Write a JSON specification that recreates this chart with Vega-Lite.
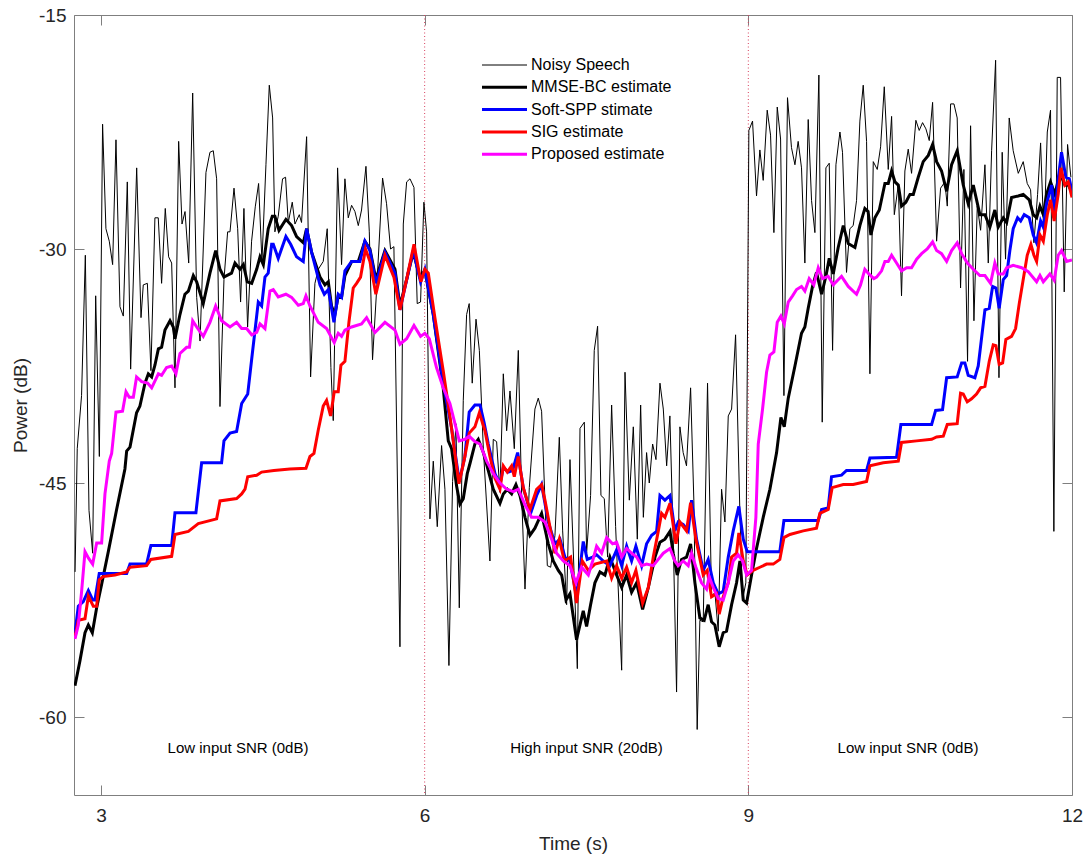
{
  "$schema": "https://vega.github.io/schema/vega-lite/v6.json",
  "width": 998,
  "height": 780,
  "autosize": {"type": "none"},
  "padding": {"left": 74, "top": 15, "right": 19, "bottom": 61},
  "background": "white",
  "config": {
    "font": "Liberation Sans",
    "view": {"stroke": null},
    "axis": {
      "grid": false,
      "domainColor": "#7f7f7f",
      "domainWidth": 1,
      "tickColor": "#7f7f7f",
      "tickWidth": 1,
      "tickSize": -10,
      "labelColor": "#262626",
      "titleColor": "#262626",
      "labelFontSize": 19,
      "titleFontSize": 19,
      "titleFontWeight": "normal",
      "labelFlush": false
    }
  },
  "datasets": {
    "bounds": [{"t": 6}, {"t": 9}],
    "notes": [
      {"t": 4.27, "p": -62, "label": "Low input SNR (0dB)"},
      {"t": 7.5, "p": -62, "label": "High input SNR (20dB)"},
      {"t": 10.48, "p": -62, "label": "Low input SNR (0dB)"}
    ],
    "noisy": [
      {"t":2.76,"p":-50.7},{"t":2.78,"p":-42.8},{"t":2.82,"p":-39.4},{"t":2.855,"p":-30.4},{"t":2.889,"p":-46.75},{"t":2.923,"p":-49.5},{"t":2.951,"p":-33.0},{"t":2.985,"p":-43.3},{"t":3.015,"p":-22.0},{"t":3.046,"p":-28.7},{"t":3.077,"p":-29.5},{"t":3.108,"p":-31.0},{"t":3.139,"p":-23.0},{"t":3.176,"p":-33.7},{"t":3.207,"p":-34.3},{"t":3.244,"p":-25.7},{"t":3.275,"p":-37.7},{"t":3.331,"p":-24.8},{"t":3.371,"p":-34.4},{"t":3.392,"p":-32.3},{"t":3.43,"p":-32.2},{"t":3.463,"p":-37.8},{"t":3.5,"p":-28.0},{"t":3.531,"p":-28.0},{"t":3.562,"p":-32.2},{"t":3.596,"p":-27.4},{"t":3.627,"p":-30.5},{"t":3.655,"p":-30.9},{"t":3.686,"p":-38.9},{"t":3.72,"p":-23.1},{"t":3.751,"p":-28.4},{"t":3.779,"p":-27.6},{"t":3.813,"p":-30.9},{"t":3.85,"p":-20.0},{"t":3.887,"p":-33.1},{"t":3.918,"p":-35.9},{"t":3.973,"p":-25.1},{"t":4.01,"p":-23.8},{"t":4.041,"p":-23.7},{"t":4.072,"p":-25.5},{"t":4.103,"p":-40.1},{"t":4.14,"p":-31.95},{"t":4.174,"p":-28.9},{"t":4.196,"p":-28.9},{"t":4.233,"p":-26.1},{"t":4.267,"p":-28.7},{"t":4.294,"p":-33.4},{"t":4.325,"p":-27.4},{"t":4.359,"p":-35.0},{"t":4.396,"p":-29.5},{"t":4.43,"p":-27.3},{"t":4.461,"p":-25.8},{"t":4.492,"p":-30.8},{"t":4.529,"p":-24.6},{"t":4.56,"p":-19.5},{"t":4.591,"p":-21.6},
      {"t":4.612,"p":-28.9},{"t":4.643,"p":-27.9},{"t":4.683,"p":-25.5},{"t":4.711,"p":-25.4},{"t":4.736,"p":-28.3},{"t":4.773,"p":-27.0},{"t":4.798,"p":-28.4},{"t":4.838,"p":-27.8},{"t":4.859,"p":-28.3},{"t":4.906,"p":-22.8},{"t":4.943,"p":-38.2},{"t":4.983,"p":-32.2},{"t":5.014,"p":-31.3},{"t":5.06,"p":-30.8},{"t":5.097,"p":-28.7},{"t":5.131,"p":-37.6},{"t":5.153,"p":-41.0},{"t":5.193,"p":-24.8},{"t":5.23,"p":-31.0},{"t":5.261,"p":-25.5},{"t":5.292,"p":-28.0},{"t":5.323,"p":-27.2},{"t":5.354,"p":-27.6},{"t":5.385,"p":-28.5},{"t":5.415,"p":-27.5},{"t":5.456,"p":-24.7},{"t":5.487,"p":-28.9},{"t":5.517,"p":-37.1},{"t":5.555,"p":-32.6},{"t":5.61,"p":-25.45},{"t":5.647,"p":-27.1},{"t":5.684,"p":-30.0},{"t":5.715,"p":-29.85},{"t":5.771,"p":-55.5},{"t":5.802,"p":-28.4},{"t":5.833,"p":-25.7},{"t":5.864,"p":-25.5},{"t":5.901,"p":-26.05},{"t":5.931,"p":-33.5},{"t":5.962,"p":-33.4},{"t":5.993,"p":-27.0},{"t":6.018,"p":-28.9},{"t":6.049,"p":-47.3},{"t":6.08,"p":-43.6},{"t":6.117,"p":-47.8},{"t":6.157,"p":-42.6},{"t":6.188,"p":-45.4},{"t":6.225,"p":-56.7},{"t":6.259,"p":-44.9},{"t":6.29,"p":-41.2},{"t":6.321,"p":-53.0},{"t":6.358,"p":-39.7},{"t":6.389,"p":-34.2},{"t":6.413,"p":-33.5},{"t":6.441,"p":-38.6},
      {"t":6.476,"p":-34.5},{"t":6.507,"p":-36.5},{"t":6.544,"p":-42.8},{"t":6.605,"p":-50.0},{"t":6.636,"p":-42.2},{"t":6.667,"p":-42.35},{"t":6.698,"p":-45.6},{"t":6.729,"p":-38.0},{"t":6.76,"p":-41.65},{"t":6.791,"p":-39.1},{"t":6.831,"p":-42.8},{"t":6.868,"p":-36.5},{"t":6.899,"p":-45.8},{"t":6.93,"p":-51.8},{"t":6.97,"p":-45.3},{"t":7.022,"p":-40.26},{"t":7.053,"p":-39.56},{"t":7.084,"p":-40.4},{"t":7.115,"p":-46.1},{"t":7.137,"p":-50.3},{"t":7.168,"p":-50.4},{"t":7.208,"p":-48.35},{"t":7.248,"p":-42.07},{"t":7.279,"p":-48.07},{"t":7.316,"p":-52.8},{"t":7.347,"p":-43.5},{"t":7.384,"p":-50.6},{"t":7.415,"p":-56.9},{"t":7.44,"p":-41.5},{"t":7.48,"p":-41.1},{"t":7.501,"p":-49.5},{"t":7.538,"p":-45.8},{"t":7.572,"p":-36.5},{"t":7.603,"p":-34.95},{"t":7.634,"p":-45.8},{"t":7.665,"p":-46.0},{"t":7.696,"p":-49.75},{"t":7.733,"p":-40.0},{"t":7.77,"p":-47.8},{"t":7.826,"p":-57.0},{"t":7.857,"p":-37.9},{"t":7.897,"p":-46.1},{"t":7.934,"p":-41.4},{"t":7.971,"p":-48.6},{"t":8.002,"p":-40.0},{"t":8.027,"p":-47.2},{"t":8.057,"p":-43.05},{"t":8.082,"p":-45.0},{"t":8.113,"p":-42.5},{"t":8.144,"p":-43.5},{"t":8.181,"p":-38.6},{"t":8.212,"p":-40.26},{"t":8.243,"p":-43.9},
      {"t":8.273,"p":-40.7},{"t":8.304,"p":-48.6},{"t":8.335,"p":-58.4},{"t":8.366,"p":-41.4},{"t":8.396,"p":-43.05},{"t":8.427,"p":-43.9},{"t":8.465,"p":-38.9},{"t":8.495,"p":-46.1},{"t":8.526,"p":-60.8},{"t":8.551,"p":-53.8},{"t":8.582,"p":-53.9},{"t":8.622,"p":-38.6},{"t":8.659,"p":-52.3},{"t":8.69,"p":-52.0},{"t":8.721,"p":-54.5},{"t":8.752,"p":-45.4},{"t":8.783,"p":-47.5},{"t":8.814,"p":-40.7},{"t":8.845,"p":-40.26},{"t":8.882,"p":-35.5},{"t":8.922,"p":-46.95},{"t":8.946,"p":-52.5},{"t":8.977,"p":-51.4},{"t":9.005,"p":-22.4},{"t":9.039,"p":-21.8},{"t":9.076,"p":-26.6},{"t":9.107,"p":-23.65},{"t":9.138,"p":-25.6},{"t":9.175,"p":-21.1},{"t":9.206,"p":-22.7},{"t":9.237,"p":-28.95},{"t":9.268,"p":-20.9},{"t":9.299,"p":-22.95},{"t":9.33,"p":-39.4},{"t":9.363,"p":-20.3},{"t":9.4,"p":-23.5},{"t":9.432,"p":-24.6},{"t":9.462,"p":-23.1},{"t":9.493,"p":-24.8},{"t":9.524,"p":-30.9},{"t":9.555,"p":-21.7},{"t":9.586,"p":-26.9},{"t":9.617,"p":-28.95},{"t":9.654,"p":-18.85},{"t":9.685,"p":-41.1},{"t":9.719,"p":-24.8},{"t":9.75,"p":-24.5},{"t":9.781,"p":-36.5},{"t":9.812,"p":-24.6},{"t":9.849,"p":-22.5},{"t":9.873,"p":-23.8},{"t":9.91,"p":-31.5},{"t":9.941,"p":-28.7},{"t":9.972,"p":-28.5},{"t":10.003,"p":-26.9},{"t":10.034,"p":-21.8},{"t":10.065,"p":-19.5},{"t":10.096,"p":-23.1},{"t":10.127,"p":-38.0},
      {"t":10.158,"p":-24.4},{"t":10.195,"p":-24.9},{"t":10.226,"p":-23.45},{"t":10.26,"p":-19.6},{"t":10.297,"p":-24.9},{"t":10.328,"p":-21.5},{"t":10.353,"p":-27.8},{"t":10.39,"p":-25.9},{"t":10.42,"p":-33.0},{"t":10.451,"p":-25.0},{"t":10.482,"p":-23.6},{"t":10.513,"p":-25.15},{"t":10.553,"p":-21.75},{"t":10.584,"p":-22.4},{"t":10.615,"p":-21.9},{"t":10.646,"p":-22.3},{"t":10.677,"p":-23.05},{"t":10.708,"p":-20.6},{"t":10.745,"p":-29.5},{"t":10.782,"p":-26.1},{"t":10.822,"p":-25.7},{"t":10.844,"p":-27.25},{"t":10.875,"p":-20.7},{"t":10.906,"p":-20.7},{"t":10.936,"p":-21.6},{"t":10.967,"p":-32.5},{"t":10.998,"p":-24.9},{"t":11.032,"p":-37.2},{"t":11.06,"p":-22.1},{"t":11.091,"p":-34.6},{"t":11.122,"p":-27.25},{"t":11.153,"p":-28.8},{"t":11.193,"p":-24.6},{"t":11.224,"p":-30.9},{"t":11.255,"p":-23.7},{"t":11.292,"p":-17.9},{"t":11.323,"p":-38.25},{"t":11.353,"p":-23.8},{"t":11.384,"p":-30.65},{"t":11.418,"p":-21.6},{"t":11.455,"p":-23.7},{"t":11.502,"p":-25.15},{"t":11.548,"p":-24.4},{"t":11.585,"p":-25.8},{"t":11.616,"p":-26.2},{"t":11.647,"p":-29.6},{"t":11.681,"p":-26.5},{"t":11.709,"p":-23.2},{"t":11.74,"p":-29.35},{"t":11.771,"p":-22.5},{"t":11.801,"p":-21.1},{"t":11.832,"p":-48.1},{"t":11.863,"p":-19.0},{"t":11.894,"p":-19.0},{"t":11.928,"p":-32.75},{"t":11.959,"p":-23.3},{"t":11.99,"p":-25.4}
    ],
    "mmse": [
      {"t":2.759,"p":-58.0},{"t":2.805,"p":-56.4},{"t":2.852,"p":-54.6},{"t":2.883,"p":-54.1},{"t":2.92,"p":-54.6},{"t":2.96,"p":-53.0},{"t":3.006,"p":-51.5},{"t":3.068,"p":-49.4},{"t":3.145,"p":-46.7},{"t":3.222,"p":-44.1},{"t":3.238,"p":-42.95},{"t":3.269,"p":-42.7},{"t":3.33,"p":-40.5},{"t":3.361,"p":-40.07},{"t":3.408,"p":-38.6},{"t":3.439,"p":-38.0},{"t":3.47,"p":-38.2},{"t":3.5,"p":-37.45},{"t":3.532,"p":-36.4},{"t":3.562,"p":-36.3},{"t":3.593,"p":-35.2},{"t":3.64,"p":-34.6},{"t":3.67,"p":-35.0},{"t":3.686,"p":-35.75},{"t":3.732,"p":-34.2},{"t":3.778,"p":-32.9},{"t":3.81,"p":-32.7},{"t":3.856,"p":-31.7},{"t":3.887,"p":-32.1},{"t":3.948,"p":-33.5},{"t":4.01,"p":-31.55},{"t":4.063,"p":-30.1},{"t":4.103,"p":-31.3},{"t":4.14,"p":-31.8},{"t":4.21,"p":-31.55},{"t":4.242,"p":-30.9},{"t":4.288,"p":-31.3},{"t":4.32,"p":-31.0},{"t":4.356,"p":-32.1},{"t":4.397,"p":-32.2},{"t":4.443,"p":-31.3},{"t":4.474,"p":-30.5},{"t":4.505,"p":-31.0},{"t":4.55,"p":-28.7},{"t":4.588,"p":-27.9},
      {"t":4.612,"p":-27.9},{"t":4.65,"p":-28.8},{"t":4.714,"p":-28.1},{"t":4.767,"p":-28.5},{"t":4.813,"p":-29.2},{"t":4.875,"p":-29.6},{"t":4.906,"p":-28.7},{"t":4.952,"p":-30.2},{"t":5.03,"p":-31.8},{"t":5.076,"p":-32.3},{"t":5.107,"p":-32.1},{"t":5.137,"p":-33.65},{"t":5.168,"p":-34.2},{"t":5.199,"p":-33.0},{"t":5.23,"p":-33.1},{"t":5.261,"p":-31.7},{"t":5.323,"p":-30.8},{"t":5.385,"p":-30.8},{"t":5.446,"p":-29.5},{"t":5.493,"p":-30.0},{"t":5.548,"p":-31.95},{"t":5.632,"p":-30.1},{"t":5.725,"p":-31.3},{"t":5.771,"p":-33.65},{"t":5.833,"p":-31.95},{"t":5.894,"p":-30.2},{"t":5.956,"p":-31.8},{"t":6.002,"p":-31.4},{"t":6.08,"p":-34.2},{"t":6.172,"p":-38.9},{"t":6.219,"p":-42.3},{"t":6.25,"p":-42.8},{"t":6.296,"p":-45.2},{"t":6.327,"p":-46.35},{"t":6.358,"p":-46.0},{"t":6.395,"p":-44.4},{"t":6.42,"p":-43.75},
      {"t":6.466,"p":-42.5},{"t":6.497,"p":-42.2},{"t":6.544,"p":-43.05},{"t":6.59,"p":-44.2},{"t":6.636,"p":-45.4},{"t":6.698,"p":-46.3},{"t":6.729,"p":-45.7},{"t":6.766,"p":-45.4},{"t":6.806,"p":-45.7},{"t":6.846,"p":-45.1},{"t":6.883,"p":-45.8},{"t":6.93,"p":-47.2},{"t":6.976,"p":-48.35},{"t":7.022,"p":-47.9},{"t":7.084,"p":-46.95},{"t":7.146,"p":-48.9},{"t":7.192,"p":-50.0},{"t":7.239,"p":-50.6},{"t":7.27,"p":-50.9},{"t":7.31,"p":-52.5},{"t":7.347,"p":-52.1},{"t":7.408,"p":-55.05},{"t":7.47,"p":-53.2},{"t":7.501,"p":-54.2},{"t":7.538,"p":-52.8},{"t":7.578,"p":-51.4},{"t":7.625,"p":-50.7},{"t":7.671,"p":-50.9},{"t":7.717,"p":-49.75},{"t":7.779,"p":-50.9},{"t":7.826,"p":-51.7},{"t":7.872,"p":-50.9},{"t":7.918,"p":-52.0},{"t":7.965,"p":-51.4},{"t":8.02,"p":-53.1},{"t":8.073,"p":-51.7},{"t":8.135,"p":-49.75},{"t":8.181,"p":-48.8},{"t":8.227,"p":-48.6},{"t":8.274,"p":-48.1},
      {"t":8.304,"p":-49.5},{"t":8.341,"p":-50.9},{"t":8.381,"p":-49.9},{"t":8.427,"p":-49.75},{"t":8.465,"p":-48.9},{"t":8.505,"p":-51.4},{"t":8.551,"p":-53.65},{"t":8.591,"p":-53.8},{"t":8.628,"p":-52.8},{"t":8.659,"p":-53.9},{"t":8.69,"p":-54.1},{"t":8.73,"p":-55.5},{"t":8.767,"p":-54.6},{"t":8.798,"p":-54.5},{"t":8.845,"p":-52.8},{"t":8.891,"p":-51.4},{"t":8.922,"p":-50.0},{"t":8.953,"p":-52.5},{"t":8.984,"p":-52.7},{"t":9.03,"p":-50.9},{"t":9.076,"p":-49.2},{"t":9.138,"p":-47.2},{"t":9.2,"p":-45.4},{"t":9.262,"p":-43.05},{"t":9.302,"p":-40.8},{"t":9.333,"p":-41.4},{"t":9.37,"p":-39.56},{"t":9.432,"p":-37.5},{"t":9.493,"p":-35.4},{"t":9.524,"p":-35.0},{"t":9.555,"p":-33.8},{"t":9.595,"p":-32.4},{"t":9.632,"p":-31.5},{"t":9.679,"p":-32.9},{"t":9.719,"p":-31.75},{"t":9.75,"p":-30.6},{"t":9.787,"p":-31.6},{"t":9.833,"p":-29.9},{"t":9.88,"p":-28.5},{"t":9.926,"p":-29.65},{"t":9.988,"p":-29.9},{"t":10.034,"p":-28.5},{"t":10.08,"p":-27.4},{"t":10.11,"p":-27.6},{"t":10.136,"p":-29.1},
      {"t":10.173,"p":-28.0},{"t":10.214,"p":-27.5},{"t":10.266,"p":-25.8},{"t":10.297,"p":-25.8},{"t":10.328,"p":-25.0},{"t":10.359,"p":-25.7},{"t":10.39,"p":-25.9},{"t":10.42,"p":-27.25},{"t":10.46,"p":-27.0},{"t":10.498,"p":-26.5},{"t":10.529,"p":-26.5},{"t":10.575,"p":-25.4},{"t":10.621,"p":-24.4},{"t":10.668,"p":-24.0},{"t":10.708,"p":-23.3},{"t":10.745,"p":-24.4},{"t":10.791,"p":-25.0},{"t":10.838,"p":-26.3},{"t":10.884,"p":-24.6},{"t":10.936,"p":-23.7},{"t":10.992,"p":-25.9},{"t":11.038,"p":-27.1},{"t":11.085,"p":-25.9},{"t":11.146,"p":-27.8},{"t":11.193,"p":-27.8},{"t":11.239,"p":-28.6},{"t":11.285,"p":-27.5},{"t":11.316,"p":-28.6},{"t":11.363,"p":-28.0},{"t":11.394,"p":-28.3},{"t":11.44,"p":-26.7},{"t":11.502,"p":-26.6},{"t":11.548,"p":-26.5},{"t":11.604,"p":-26.85},{"t":11.641,"p":-27.8},{"t":11.672,"p":-28.0},{"t":11.703,"p":-27.25},{"t":11.734,"p":-27.8},{"t":11.764,"p":-26.5},{"t":11.801,"p":-25.7},{"t":11.842,"p":-26.5},{"t":11.888,"p":-25.1},{"t":11.934,"p":-25.9},{"t":11.965,"p":-25.9},{"t":11.996,"p":-26.3}
    ],
    "softspp": [
      {"t":2.759,"p":-54.6},{"t":2.79,"p":-52.9},{"t":2.836,"p":-52.6},{"t":2.883,"p":-51.9},{"t":2.923,"p":-52.5},{"t":2.944,"p":-52.5},{"t":2.984,"p":-50.8},{"t":3.238,"p":-50.8},{"t":3.269,"p":-50.2},{"t":3.423,"p":-50.2},{"t":3.463,"p":-49.0},{"t":3.655,"p":-49.0},{"t":3.686,"p":-46.9},{"t":3.88,"p":-46.9},{"t":3.933,"p":-43.7},{"t":4.118,"p":-43.7},{"t":4.14,"p":-42.3},{"t":4.196,"p":-41.8},{"t":4.257,"p":-41.7},{"t":4.304,"p":-39.9},{"t":4.36,"p":-39.3},{"t":4.397,"p":-37.05},{"t":4.458,"p":-33.4},{"t":4.489,"p":-33.65},{"t":4.52,"p":-31.8},{"t":4.55,"p":-31.55},{"t":4.582,"p":-29.7},
      {"t":4.597,"p":-29.7},{"t":4.643,"p":-30.6},{"t":4.714,"p":-29.2},{"t":4.758,"p":-29.7},{"t":4.813,"p":-30.5},{"t":4.875,"p":-30.8},{"t":4.906,"p":-28.7},{"t":4.952,"p":-30.2},{"t":5.03,"p":-32.3},{"t":5.07,"p":-32.9},{"t":5.107,"p":-32.6},{"t":5.159,"p":-34.7},{"t":5.199,"p":-32.9},{"t":5.23,"p":-33.1},{"t":5.261,"p":-31.4},{"t":5.323,"p":-30.8},{"t":5.4,"p":-30.8},{"t":5.446,"p":-29.5},{"t":5.493,"p":-30.1},{"t":5.548,"p":-32.2},{"t":5.632,"p":-30.2},{"t":5.725,"p":-31.55},{"t":5.771,"p":-33.9},{"t":5.894,"p":-30.1},{"t":5.962,"p":-32.1},{"t":6.002,"p":-31.3},{"t":6.08,"p":-34.2},{"t":6.172,"p":-38.6},{"t":6.25,"p":-41.5},{"t":6.321,"p":-44.9},{"t":6.373,"p":-43.3},{"t":6.413,"p":-40.46},
      {"t":6.466,"p":-40.0},{"t":6.513,"p":-40.0},{"t":6.55,"p":-41.1},{"t":6.59,"p":-42.5},{"t":6.652,"p":-44.4},{"t":6.698,"p":-45.1},{"t":6.729,"p":-44.0},{"t":6.775,"p":-44.3},{"t":6.815,"p":-44.2},{"t":6.862,"p":-43.05},{"t":6.914,"p":-45.3},{"t":6.982,"p":-46.95},{"t":7.038,"p":-45.8},{"t":7.084,"p":-45.1},{"t":7.146,"p":-47.5},{"t":7.208,"p":-48.9},{"t":7.254,"p":-48.6},{"t":7.3,"p":-49.75},{"t":7.347,"p":-50.0},{"t":7.408,"p":-52.3},{"t":7.47,"p":-48.75},{"t":7.507,"p":-49.9},{"t":7.557,"p":-49.75},{"t":7.594,"p":-49.6},{"t":7.656,"p":-50.0},{"t":7.717,"p":-50.3},{"t":7.779,"p":-49.3},{"t":7.826,"p":-50.3},{"t":7.872,"p":-49.05},{"t":7.918,"p":-50.0},{"t":7.958,"p":-49.05},{"t":8.011,"p":-50.3},{"t":8.057,"p":-48.9},{"t":8.104,"p":-48.35},{"t":8.15,"p":-48.1},{"t":8.181,"p":-45.8},{"t":8.227,"p":-46.1},{"t":8.274,"p":-45.8},
      {"t":8.319,"p":-48.07},{"t":8.35,"p":-47.5},{"t":8.396,"p":-47.65},{"t":8.443,"p":-48.07},{"t":8.474,"p":-46.1},{"t":8.52,"p":-48.6},{"t":8.582,"p":-50.6},{"t":8.628,"p":-49.9},{"t":8.675,"p":-51.4},{"t":8.721,"p":-52.1},{"t":8.767,"p":-51.95},{"t":8.814,"p":-49.75},{"t":8.86,"p":-48.07},{"t":8.912,"p":-46.5},{"t":8.953,"p":-48.6},{"t":8.99,"p":-49.4},{"t":9.292,"p":-49.4},{"t":9.33,"p":-47.4},{"t":9.648,"p":-47.4},{"t":9.679,"p":-46.7},{"t":9.74,"p":-46.6},{"t":9.771,"p":-44.6},{"t":9.864,"p":-44.5},{"t":9.91,"p":-44.2},{"t":10.096,"p":-44.2},{"t":10.127,"p":-43.4},
      {"t":10.374,"p":-43.35},{"t":10.414,"p":-41.25},{"t":10.699,"p":-41.25},{"t":10.736,"p":-40.35},{"t":10.8,"p":-40.3},{"t":10.838,"p":-38.25},{"t":10.936,"p":-38.2},{"t":10.977,"p":-37.3},{"t":11.007,"p":-37.3},{"t":11.038,"p":-38.1},{"t":11.1,"p":-38.25},{"t":11.131,"p":-37.5},{"t":11.193,"p":-33.9},{"t":11.233,"p":-33.8},{"t":11.264,"p":-32.4},{"t":11.295,"p":-32.5},{"t":11.325,"p":-33.8},{"t":11.363,"p":-31.96},{"t":11.394,"p":-31.7},{"t":11.424,"p":-30.1},{"t":11.455,"p":-28.7},{"t":11.496,"p":-28.0},{"t":11.524,"p":-28.2},{"t":11.557,"p":-27.8},{"t":11.604,"p":-28.0},{"t":11.641,"p":-29.1},{"t":11.672,"p":-29.6},{"t":11.709,"p":-28.2},{"t":11.734,"p":-28.6},{"t":11.764,"p":-27.1},{"t":11.811,"p":-25.9},{"t":11.842,"p":-27.8},{"t":11.872,"p":-25.5},{"t":11.903,"p":-23.8},{"t":11.943,"p":-25.4},{"t":11.975,"p":-25.5},{"t":12.0,"p":-26.3}
    ],
    "sig": [
      {"t":2.759,"p":-54.9},{"t":2.79,"p":-53.8},{"t":2.852,"p":-53.7},{"t":2.883,"p":-52.25},{"t":2.929,"p":-52.9},{"t":2.96,"p":-52.9},{"t":2.984,"p":-51.2},{"t":3.02,"p":-51.0},{"t":3.13,"p":-50.9},{"t":3.238,"p":-50.7},{"t":3.269,"p":-50.4},{"t":3.423,"p":-50.3},{"t":3.463,"p":-49.9},{"t":3.655,"p":-49.7},{"t":3.686,"p":-48.3},{"t":3.81,"p":-48.1},{"t":3.902,"p":-47.6},{"t":4.072,"p":-47.3},{"t":4.103,"p":-46.15},{"t":4.257,"p":-46.0},{"t":4.304,"p":-45.7},{"t":4.335,"p":-45.4},{"t":4.36,"p":-44.6},{"t":4.443,"p":-44.5},{"t":4.489,"p":-44.3},{"t":4.603,"p":-44.2},
      {"t":4.751,"p":-44.1},{"t":4.9,"p":-44.05},{"t":4.937,"p":-43.3},{"t":4.974,"p":-43.1},{"t":5.014,"p":-41.6},{"t":5.06,"p":-40.07},{"t":5.091,"p":-39.7},{"t":5.128,"p":-40.7},{"t":5.162,"p":-39.15},{"t":5.199,"p":-39.15},{"t":5.224,"p":-37.45},{"t":5.261,"p":-37.2},{"t":5.298,"p":-34.7},{"t":5.338,"p":-32.5},{"t":5.369,"p":-32.2},{"t":5.406,"p":-31.8},{"t":5.452,"p":-30.0},{"t":5.493,"p":-30.8},{"t":5.548,"p":-32.9},{"t":5.632,"p":-30.4},{"t":5.715,"p":-31.8},{"t":5.771,"p":-33.9},{"t":5.833,"p":-31.95},{"t":5.901,"p":-29.7},{"t":5.965,"p":-32.1},{"t":6.002,"p":-31.3},{"t":6.034,"p":-31.55},{"t":6.095,"p":-34.4},{"t":6.172,"p":-37.8},{"t":6.234,"p":-40.7},{"t":6.318,"p":-45.05},{"t":6.367,"p":-43.5},{"t":6.413,"p":-41.8},
      {"t":6.466,"p":-41.4},{"t":6.507,"p":-40.5},{"t":6.559,"p":-41.65},{"t":6.605,"p":-43.3},{"t":6.652,"p":-44.7},{"t":6.698,"p":-45.4},{"t":6.729,"p":-43.9},{"t":6.766,"p":-44.3},{"t":6.806,"p":-43.9},{"t":6.831,"p":-44.6},{"t":6.868,"p":-43.3},{"t":6.914,"p":-45.3},{"t":6.976,"p":-46.7},{"t":7.038,"p":-45.4},{"t":7.084,"p":-45.1},{"t":7.115,"p":-46.1},{"t":7.161,"p":-47.8},{"t":7.208,"p":-49.5},{"t":7.248,"p":-48.6},{"t":7.294,"p":-50.0},{"t":7.353,"p":-49.75},{"t":7.408,"p":-52.7},{"t":7.461,"p":-50.0},{"t":7.517,"p":-50.6},{"t":7.578,"p":-50.2},{"t":7.687,"p":-50.0},{"t":7.733,"p":-51.1},{"t":7.779,"p":-50.3},{"t":7.826,"p":-51.1},{"t":7.872,"p":-50.4},{"t":7.918,"p":-51.4},{"t":7.958,"p":-50.6},{"t":8.02,"p":-52.7},{"t":8.073,"p":-51.7},{"t":8.119,"p":-49.75},{"t":8.165,"p":-48.1},{"t":8.196,"p":-46.95},{"t":8.227,"p":-47.2},{"t":8.274,"p":-46.3},
      {"t":8.329,"p":-48.9},{"t":8.366,"p":-47.5},{"t":8.427,"p":-48.07},{"t":8.465,"p":-46.26},{"t":8.514,"p":-48.6},{"t":8.582,"p":-50.9},{"t":8.619,"p":-50.6},{"t":8.659,"p":-52.3},{"t":8.706,"p":-52.1},{"t":8.73,"p":-53.4},{"t":8.767,"p":-52.3},{"t":8.814,"p":-51.4},{"t":8.845,"p":-49.75},{"t":8.891,"p":-49.5},{"t":8.912,"p":-48.2},{"t":8.953,"p":-50.0},{"t":8.99,"p":-50.9},{"t":9.045,"p":-50.6},{"t":9.107,"p":-50.4},{"t":9.169,"p":-50.2},{"t":9.231,"p":-50.2},{"t":9.292,"p":-49.9},{"t":9.33,"p":-48.5},{"t":9.385,"p":-48.3},{"t":9.509,"p":-48.07},{"t":9.632,"p":-47.9},{"t":9.663,"p":-46.95},{"t":9.74,"p":-46.7},{"t":9.777,"p":-45.3},{"t":9.88,"p":-45.1},{"t":9.972,"p":-45.1},{"t":10.096,"p":-44.9},{"t":10.127,"p":-43.9},
      {"t":10.251,"p":-43.7},{"t":10.39,"p":-43.6},{"t":10.42,"p":-42.4},{"t":10.56,"p":-42.3},{"t":10.699,"p":-42.2},{"t":10.745,"p":-42.05},{"t":10.807,"p":-42.0},{"t":10.844,"p":-41.25},{"t":10.936,"p":-41.2},{"t":10.967,"p":-39.25},{"t":10.992,"p":-39.3},{"t":11.029,"p":-39.8},{"t":11.069,"p":-39.6},{"t":11.115,"p":-39.3},{"t":11.153,"p":-38.9},{"t":11.193,"p":-38.8},{"t":11.233,"p":-37.2},{"t":11.27,"p":-36.15},{"t":11.295,"p":-36.2},{"t":11.325,"p":-37.4},{"t":11.357,"p":-37.3},{"t":11.387,"p":-35.8},{"t":11.44,"p":-35.6},{"t":11.477,"p":-35.1},{"t":11.511,"p":-33.5},{"t":11.554,"p":-31.7},{"t":11.585,"p":-30.4},{"t":11.619,"p":-29.7},{"t":11.647,"p":-30.4},{"t":11.672,"p":-30.8},{"t":11.703,"p":-29.1},{"t":11.734,"p":-29.5},{"t":11.771,"p":-27.8},{"t":11.801,"p":-26.85},{"t":11.835,"p":-28.2},{"t":11.872,"p":-26.5},{"t":11.897,"p":-24.8},{"t":11.934,"p":-25.9},{"t":11.965,"p":-25.7},{"t":12.0,"p":-26.7}
    ],
    "proposed": [
      {"t":2.759,"p":-55.0},{"t":2.79,"p":-54.1},{"t":2.82,"p":-52.0},{"t":2.852,"p":-49.4},{"t":2.883,"p":-49.8},{"t":2.923,"p":-50.2},{"t":2.96,"p":-48.85},{"t":3.006,"p":-48.85},{"t":3.037,"p":-45.7},{"t":3.077,"p":-43.6},{"t":3.099,"p":-43.1},{"t":3.139,"p":-40.46},{"t":3.2,"p":-40.4},{"t":3.232,"p":-39.15},{"t":3.262,"p":-39.5},{"t":3.3,"p":-39.5},{"t":3.33,"p":-38.2},{"t":3.377,"p":-38.5},{"t":3.433,"p":-38.6},{"t":3.47,"p":-38.9},{"t":3.532,"p":-38.0},{"t":3.562,"p":-38.1},{"t":3.608,"p":-37.6},{"t":3.655,"p":-37.5},{"t":3.695,"p":-38.0},{"t":3.732,"p":-36.7},{"t":3.794,"p":-36.3},{"t":3.82,"p":-36.3},{"t":3.85,"p":-34.6},{"t":3.887,"p":-35.0},{"t":3.948,"p":-35.6},{"t":4.01,"p":-34.7},{"t":4.063,"p":-33.65},{"t":4.118,"p":-34.6},{"t":4.196,"p":-35.0},{"t":4.257,"p":-34.7},{"t":4.304,"p":-35.1},{"t":4.35,"p":-35.1},{"t":4.397,"p":-35.5},{"t":4.443,"p":-35.35},{"t":4.474,"p":-34.8},{"t":4.52,"p":-35.1},{"t":4.566,"p":-32.7},
      {"t":4.597,"p":-32.6},{"t":4.643,"p":-33.07},{"t":4.714,"p":-32.9},{"t":4.767,"p":-33.1},{"t":4.829,"p":-33.6},{"t":4.875,"p":-33.5},{"t":4.9,"p":-33.0},{"t":4.937,"p":-33.65},{"t":5.014,"p":-34.7},{"t":5.091,"p":-35.1},{"t":5.162,"p":-36.0},{"t":5.199,"p":-35.4},{"t":5.23,"p":-35.6},{"t":5.261,"p":-35.2},{"t":5.323,"p":-35.0},{"t":5.415,"p":-34.8},{"t":5.462,"p":-34.4},{"t":5.539,"p":-35.35},{"t":5.632,"p":-34.7},{"t":5.725,"p":-35.2},{"t":5.771,"p":-36.1},{"t":5.833,"p":-35.75},{"t":5.901,"p":-34.9},{"t":5.962,"p":-35.6},{"t":6.002,"p":-35.4},{"t":6.043,"p":-35.75},{"t":6.11,"p":-37.6},{"t":6.172,"p":-38.9},{"t":6.234,"p":-39.9},{"t":6.321,"p":-42.3},{"t":6.373,"p":-42.2},{"t":6.413,"p":-42.0},
      {"t":6.466,"p":-42.35},{"t":6.513,"p":-42.5},{"t":6.575,"p":-43.6},{"t":6.636,"p":-44.4},{"t":6.698,"p":-45.0},{"t":6.76,"p":-45.4},{"t":6.822,"p":-45.55},{"t":6.868,"p":-45.4},{"t":6.93,"p":-46.4},{"t":6.991,"p":-47.2},{"t":7.053,"p":-47.2},{"t":7.115,"p":-47.5},{"t":7.177,"p":-48.6},{"t":7.223,"p":-49.5},{"t":7.285,"p":-50.0},{"t":7.347,"p":-50.3},{"t":7.402,"p":-51.4},{"t":7.455,"p":-50.4},{"t":7.517,"p":-50.9},{"t":7.557,"p":-50.0},{"t":7.594,"p":-49.05},{"t":7.64,"p":-49.5},{"t":7.687,"p":-48.5},{"t":7.742,"p":-48.9},{"t":7.779,"p":-48.8},{"t":7.826,"p":-49.75},{"t":7.872,"p":-49.2},{"t":7.918,"p":-49.5},{"t":7.965,"p":-49.75},{"t":8.011,"p":-50.3},{"t":8.057,"p":-50.2},{"t":8.119,"p":-50.3},{"t":8.165,"p":-49.9},{"t":8.212,"p":-49.5},{"t":8.274,"p":-49.2},
      {"t":8.319,"p":-50.0},{"t":8.35,"p":-50.3},{"t":8.396,"p":-50.0},{"t":8.443,"p":-50.3},{"t":8.474,"p":-49.5},{"t":8.514,"p":-50.4},{"t":8.566,"p":-51.4},{"t":8.613,"p":-51.8},{"t":8.637,"p":-51.0},{"t":8.675,"p":-51.7},{"t":8.721,"p":-52.4},{"t":8.767,"p":-52.5},{"t":8.814,"p":-51.4},{"t":8.86,"p":-50.0},{"t":8.906,"p":-49.6},{"t":8.946,"p":-50.0},{"t":8.984,"p":-50.9},{"t":9.03,"p":-50.6},{"t":9.07,"p":-47.2},{"t":9.092,"p":-42.5},{"t":9.132,"p":-40.26},{"t":9.169,"p":-37.9},{"t":9.2,"p":-36.8},{"t":9.237,"p":-36.6},{"t":9.268,"p":-34.7},{"t":9.302,"p":-34.3},{"t":9.333,"p":-34.8},{"t":9.37,"p":-33.4},{"t":9.41,"p":-33.0},{"t":9.447,"p":-32.6},{"t":9.493,"p":-32.4},{"t":9.524,"p":-32.7},{"t":9.564,"p":-31.9},{"t":9.607,"p":-32.3},{"t":9.648,"p":-31.2},{"t":9.688,"p":-31.9},{"t":9.74,"p":-31.75},{"t":9.787,"p":-32.3},{"t":9.864,"p":-31.75},{"t":9.926,"p":-32.4},{"t":10.003,"p":-32.9},{"t":10.04,"p":-32.3},{"t":10.08,"p":-31.3},{"t":10.117,"p":-31.6},{"t":10.163,"p":-31.9},
      {"t":10.189,"p":-31.8},{"t":10.235,"p":-31.4},{"t":10.266,"p":-30.8},{"t":10.297,"p":-30.8},{"t":10.328,"p":-30.4},{"t":10.374,"p":-30.9},{"t":10.42,"p":-31.4},{"t":10.467,"p":-31.2},{"t":10.513,"p":-31.2},{"t":10.56,"p":-30.65},{"t":10.606,"p":-30.3},{"t":10.658,"p":-30.0},{"t":10.708,"p":-29.55},{"t":10.745,"p":-30.1},{"t":10.791,"p":-30.3},{"t":10.838,"p":-30.8},{"t":10.884,"p":-30.1},{"t":10.936,"p":-29.6},{"t":10.977,"p":-30.3},{"t":11.03,"p":-30.9},{"t":11.085,"p":-31.3},{"t":11.146,"p":-31.7},{"t":11.193,"p":-31.7},{"t":11.245,"p":-32.2},{"t":11.285,"p":-30.9},{"t":11.316,"p":-31.6},{"t":11.363,"p":-31.6},{"t":11.394,"p":-31.2},{"t":11.455,"p":-31.05},{"t":11.533,"p":-31.2},{"t":11.594,"p":-31.45},{"t":11.672,"p":-32.1},{"t":11.703,"p":-31.7},{"t":11.734,"p":-32.1},{"t":11.795,"p":-31.6},{"t":11.835,"p":-32.0},{"t":11.872,"p":-30.4},{"t":11.903,"p":-30.1},{"t":11.95,"p":-30.8},{"t":12.0,"p":-30.7}
    ]
  },
  "layer": [
    {
      "data": {"name": "bounds"},
      "mark": {"type": "rule", "color": "#d8405f", "strokeWidth": 1, "strokeDash": [1, 2.5]},
      "encoding": {
        "x": {"field": "t", "type": "quantitative", "scale": {"domain": [2.75, 12], "nice": false, "zero": false}, "axis": null}
      }
    },
    {
      "data": {"name": "noisy"},
      "mark": {"type": "line", "strokeWidth": 1, "clip": true},
      "encoding": {
        "x": {"field": "t", "type": "quantitative", "scale": {"domain": [2.75, 12], "nice": false, "zero": false},
              "axis": {"orient": "bottom", "values": [3, 6, 9, 12], "title": "Time (s)", "labelExpr": "'' + datum.value", "labelPadding": 21, "titlePadding": 9}},
        "y": {"field": "p", "type": "quantitative", "scale": {"domain": [-65, -15], "nice": false, "zero": false},
              "axis": {"orient": "left", "values": [-60, -45, -30, -15], "title": "Power (dB)", "labelExpr": "'' + datum.value", "labelPadding": 18, "titlePadding": 8}},
        "color": {
          "datum": "Noisy Speech", "type": "nominal",
          "scale": {"domain": ["Noisy Speech", "MMSE-BC estimate", "Soft-SPP stimate", "SIG estimate", "Proposed estimate"],
                    "range": ["#000000", "#000000", "#0000ff", "#ff0000", "#ff00ff"]},
          "legend": {
            "orient": "none", "legendX": 408, "legendY": 42, "title": null, "padding": 0,
            "symbolType": "stroke", "symbolSize": 2025, "symbolStrokeWidth": 3, "symbolOffset": 14.5,
            "labelFontSize": 16, "labelColor": "#000000", "labelOffset": 18.5, "rowPadding": 6.3,
            "encode": {"symbols": {"update": {
              "size": {"value": 2025},
              "strokeWidth": {"signal": "datum.value === 'Noisy Speech' ? 1 : 3"}
            }}}
          }
        }
      }
    },
    {
      "data": {"name": "mmse"},
      "mark": {"type": "line", "strokeWidth": 3, "clip": true},
      "encoding": {
        "x": {"field": "t", "type": "quantitative", "scale": {"domain": [2.75, 12], "nice": false, "zero": false}, "axis": null},
        "y": {"field": "p", "type": "quantitative", "scale": {"domain": [-65, -15], "nice": false, "zero": false}, "axis": null},
        "color": {"datum": "MMSE-BC estimate", "type": "nominal"}
      }
    },
    {
      "data": {"name": "softspp"},
      "mark": {"type": "line", "strokeWidth": 3, "clip": true},
      "encoding": {
        "x": {"field": "t", "type": "quantitative", "scale": {"domain": [2.75, 12], "nice": false, "zero": false}, "axis": null},
        "y": {"field": "p", "type": "quantitative", "scale": {"domain": [-65, -15], "nice": false, "zero": false}, "axis": null},
        "color": {"datum": "Soft-SPP stimate", "type": "nominal"}
      }
    },
    {
      "data": {"name": "sig"},
      "mark": {"type": "line", "strokeWidth": 3, "clip": true},
      "encoding": {
        "x": {"field": "t", "type": "quantitative", "scale": {"domain": [2.75, 12], "nice": false, "zero": false}, "axis": null},
        "y": {"field": "p", "type": "quantitative", "scale": {"domain": [-65, -15], "nice": false, "zero": false}, "axis": null},
        "color": {"datum": "SIG estimate", "type": "nominal"}
      }
    },
    {
      "data": {"name": "proposed"},
      "mark": {"type": "line", "strokeWidth": 3, "clip": true},
      "encoding": {
        "x": {"field": "t", "type": "quantitative", "scale": {"domain": [2.75, 12], "nice": false, "zero": false},
              "axis": {"orient": "top", "values": [3, 6, 9, 12], "labels": false, "title": null}},
        "y": {"field": "p", "type": "quantitative", "scale": {"domain": [-65, -15], "nice": false, "zero": false},
              "axis": {"orient": "right", "values": [-60, -45, -30, -15], "labels": false, "title": null}},
        "color": {"datum": "Proposed estimate", "type": "nominal"}
      }
    },
    {
      "data": {"name": "notes"},
      "mark": {"type": "text", "fontSize": 15, "color": "#000000", "align": "center", "baseline": "middle"},
      "encoding": {
        "x": {"field": "t", "type": "quantitative", "scale": {"domain": [2.75, 12], "nice": false, "zero": false}, "axis": null},
        "y": {"field": "p", "type": "quantitative", "scale": {"domain": [-65, -15], "nice": false, "zero": false}, "axis": null},
        "text": {"field": "label"}
      }
    }
  ],
  "resolve": {"axis": {"x": "independent", "y": "independent"}}
}
